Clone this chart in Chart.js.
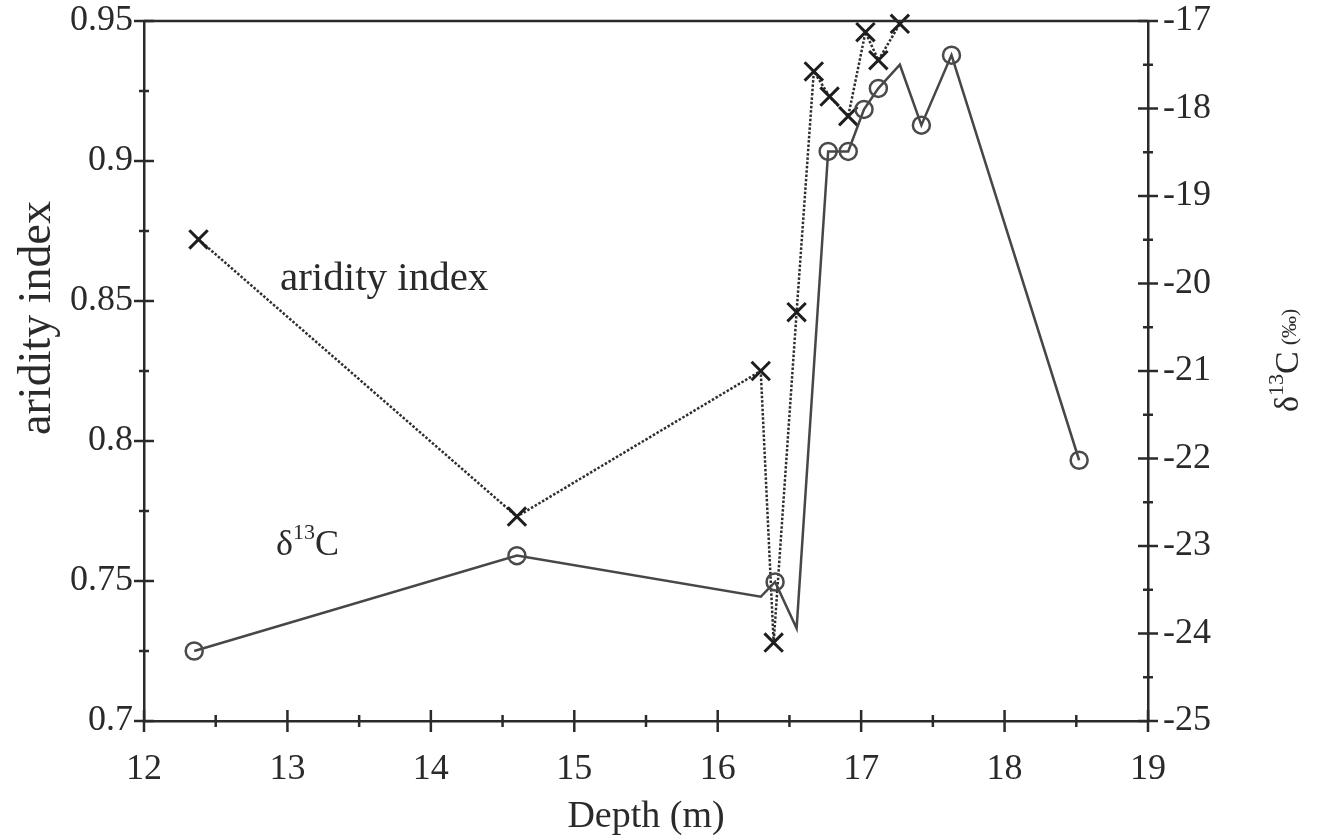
<!DOCTYPE html>
<html>
<head>
<meta charset="utf-8">
<script src="https://cdn.jsdelivr.net/npm/chart.js@4.4.1/dist/chart.umd.min.js"></script>
<style>
  html, body { margin: 0; padding: 0; background: #fff; }
  #wrap { width: 1322px; height: 840px; }
</style>
</head>
<body>
<div id="wrap"><canvas id="chart" width="1322" height="840"></canvas></div>
<script>
const aridityDepth = [12.38, 14.60, 16.30, 16.39, 16.55, 16.67, 16.78, 16.91, 17.03, 17.12, 17.27];
const aridityIndex = [0.872, 0.773, 0.825, 0.728, 0.846, 0.932, 0.923, 0.916, 0.946, 0.936, 0.949];

const carbonDepth  = [12.35, 14.60, 16.30, 16.40, 16.55, 16.77, 16.91, 17.02, 17.12, 17.27, 17.42, 17.63, 18.52];
const carbonValue  = [-24.20, -23.11, -23.58, -23.41, -23.94, -18.49, -18.49, -18.01, -17.77, -17.50, -18.19, -17.39, -22.02];
// samples drawn with an open circle (the others are only line vertices)
const carbonCircle = [true, true, false, true, false, true, true, true, true, false, true, true, true];

const depthTicks   = [12, 13, 14, 15, 16, 17, 18, 19];
const aridityTicks = [0.7, 0.75, 0.8, 0.85, 0.9, 0.95];
const carbonTicks  = [-25, -24, -23, -22, -21, -20, -19, -18, -17];

const SERIF = '"Liberation Serif", "DejaVu Serif", serif';
const INK = '#2a2a2a';

// —––– Tick marks crossing the axes, top border, text labels ––––
const frame = {
  id: 'frame',
  afterDraw(chart) {
    const { ctx, chartArea: a, scales } = chart;
    const line = (x1, y1, x2, y2) => { ctx.beginPath(); ctx.moveTo(x1, y1); ctx.lineTo(x2, y2); ctx.stroke(); };
    ctx.save();
    ctx.strokeStyle = INK;
    ctx.lineWidth = 2.5;
    line(a.left, a.top, a.right, a.top);

    // x: majors every 1 m, minors in between
    depthTicks.forEach((v, i) => {
      const px = scales.x.getPixelForValue(v);
      line(px, a.bottom - 11, px, a.bottom + 11);
      if (i < depthTicks.length - 1) {
        const mx = scales.x.getPixelForValue((v + depthTicks[i + 1]) / 2);
        line(mx, a.bottom - 6, mx, a.bottom + 6);
      }
    });
    // left
    aridityTicks.forEach((v, i) => {
      const py = scales.y.getPixelForValue(v);
      line(a.left - 10, py, a.left + 10, py);
      if (i < aridityTicks.length - 1) {
        const my = scales.y.getPixelForValue((v + aridityTicks[i + 1]) / 2);
        line(a.left - 5, my, a.left + 5, my);
      }
    });
    // right
    carbonTicks.forEach((v, i) => {
      const py = scales.y1.getPixelForValue(v);
      line(a.right - 10, py, a.right + 10, py);
      if (i < carbonTicks.length - 1) {
        const my = scales.y1.getPixelForValue((v + carbonTicks[i + 1]) / 2);
        line(a.right - 5, my, a.right + 5, my);
      }
    });

    ctx.fillStyle = INK;
    ctx.textBaseline = 'alphabetic';

    // left axis title
    ctx.save();
    ctx.translate(50, 318);
    ctx.rotate(-Math.PI / 2);
    ctx.textAlign = 'center';
    ctx.font = `46px ${SERIF}`;
    ctx.fillText('aridity index', 0, 0);
    ctx.restore();

    // series label: aridity index
    ctx.textAlign = 'left';
    ctx.font = `41px ${SERIF}`;
    ctx.fillText('aridity index', 280, 290);

    // series label: δ13C
    let x = 276;
    ctx.font = `36px ${SERIF}`;
    ctx.fillText('δ', x, 555); x += ctx.measureText('δ').width;
    ctx.font = `22px ${SERIF}`;
    ctx.fillText('13', x, 539); x += ctx.measureText('13').width;
    ctx.font = `36px ${SERIF}`;
    ctx.fillText('C', x, 555);

    // right axis title: δ13C (‰)
    ctx.save();
    ctx.translate(1298, 412);
    ctx.rotate(-Math.PI / 2);
    let t = 0;
    ctx.font = `34px ${SERIF}`;
    ctx.fillText('δ', t, 0); t += ctx.measureText('δ').width;
    ctx.font = `22px ${SERIF}`;
    ctx.fillText('13', t, -15); t += ctx.measureText('13').width;
    ctx.font = `34px ${SERIF}`;
    ctx.fillText('C', t, 0); t += ctx.measureText('C').width + 6;
    ctx.font = `22px ${SERIF}`;
    ctx.fillText('(‰)', t, -2);
    ctx.restore();

    ctx.restore();
  }
};

const tickFont = { family: SERIF, size: 36 };
const fitVertical = width => s => { s.width = width; s.paddingTop = 21; s.paddingBottom = 0; };

new Chart(document.getElementById('chart'), {
  type: 'scatter',
  data: {
    datasets: [
      {
        label: 'δ13C',
        data: carbonDepth.map((d, i) => ({ x: d, y: carbonValue[i] })),
        yAxisID: 'y1',
        showLine: true,
        borderColor: '#474747',
        borderWidth: 2.5,
        pointStyle: 'circle',
        pointRadius: c => carbonCircle[c.dataIndex] ? 8.5 : 0,
        pointBorderWidth: 2.5,
        pointBorderColor: '#4a4a4a',
        pointBackgroundColor: 'rgba(0,0,0,0)',
        clip: false
      },
      {
        label: 'aridity index',
        data: aridityDepth.map((d, i) => ({ x: d, y: aridityIndex[i] })),
        yAxisID: 'y',
        showLine: true,
        borderColor: '#2e2e2e',
        borderWidth: 2.5,
        borderDash: [2.5, 1.8],
        pointStyle: 'crossRot',
        pointRadius: 13,
        pointBorderWidth: 3,
        pointBorderColor: '#1e1e1e',
        clip: false
      }
    ]
  },
  options: {
    responsive: false,
    animation: false,
    devicePixelRatio: 1,
    layout: { padding: { top: 0, left: 0, right: 0, bottom: 0 } },
    plugins: { legend: { display: false }, tooltip: { enabled: false } },
    scales: {
      x: {
        type: 'linear', position: 'bottom', min: 12, max: 19,
        afterBuildTicks: s => { s.ticks = depthTicks.map(v => ({ value: v })); },
        afterFit: s => { s.height = 119; },
        grid: { drawOnChartArea: false, drawTicks: false },
        border: { color: INK, width: 2.5 },
        ticks: { font: tickFont, color: INK, padding: 27, maxRotation: 0 },
        title: { display: true, text: 'Depth (m)', font: { family: SERIF, size: 38 }, color: INK, padding: { top: 0, bottom: 0 } }
      },
      y: {
        type: 'linear', position: 'left', min: 0.7, max: 0.95,
        afterBuildTicks: s => { s.ticks = aridityTicks.map(v => ({ value: v })); },
        afterFit: fitVertical(144),
        grid: { drawOnChartArea: false, drawTicks: false },
        border: { color: INK, width: 2.5 },
        ticks: { font: tickFont, color: INK, padding: 11, callback: v => String(+v.toFixed(2)) }
      },
      y1: {
        type: 'linear', position: 'right', min: -25, max: -17,
        afterBuildTicks: s => { s.ticks = carbonTicks.map(v => ({ value: v })); },
        afterFit: fitVertical(174),
        grid: { drawOnChartArea: false, drawTicks: false },
        border: { color: INK, width: 2.5 },
        ticks: { font: tickFont, color: INK, padding: 15, callback: v => String(v) }
      }
    }
  },
  plugins: [frame]
});
</script>
</body>
</html>
